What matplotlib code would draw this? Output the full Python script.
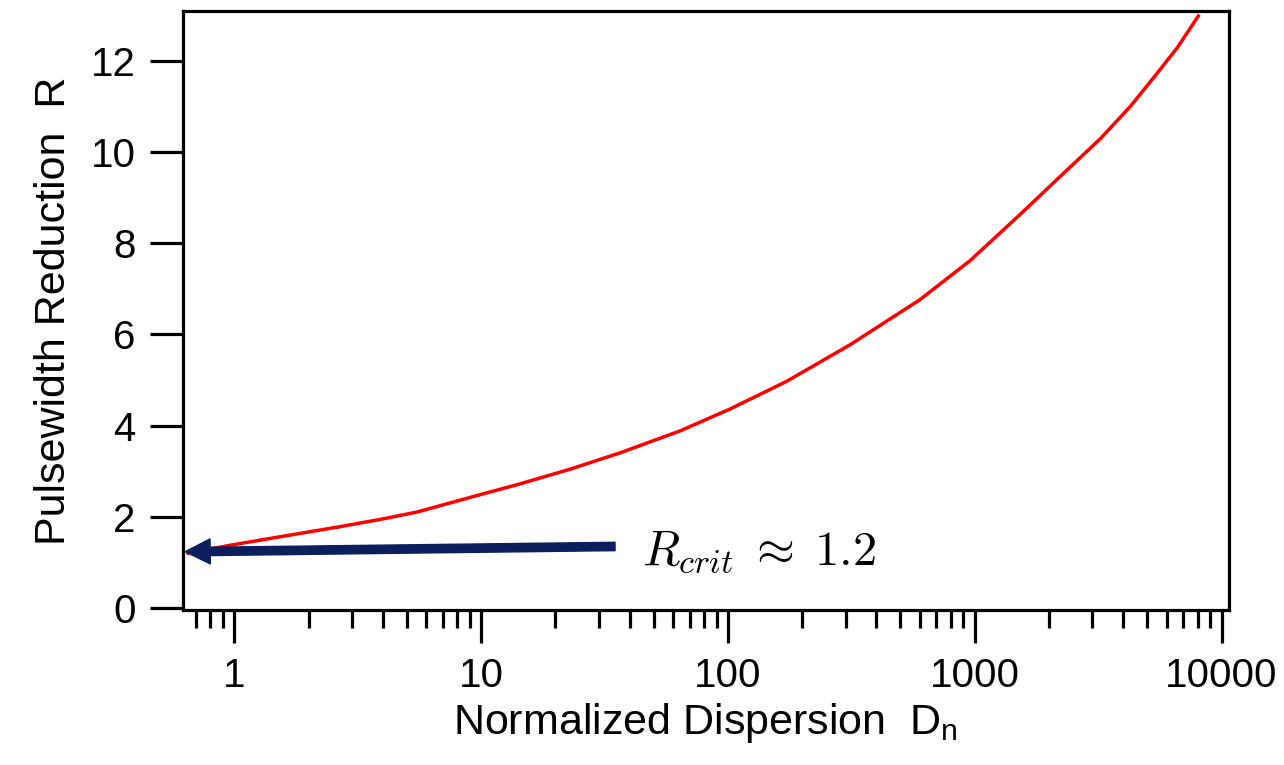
import numpy as np
import matplotlib
matplotlib.use("Agg")
import matplotlib.pyplot as plt
from matplotlib.ticker import LogLocator, FixedLocator, NullFormatter

# values
dispersion = [0.65, 0.96, 1.54, 2.69, 4.0, 5.5, 9.0, 14.4, 22.9, 36.6, 63.9, 101.8,
              173, 312, 599, 958, 1518, 2273, 3233, 4263, 5277, 6630, 8053]
reduction = [1.20, 1.37, 1.56, 1.78, 1.95, 2.10, 2.42, 2.72, 3.04, 3.40, 3.88, 4.36,
             4.97, 5.77, 6.76, 7.62, 8.62, 9.52, 10.3, 11.0, 11.62, 12.3, 12.99]
x_ticks = [1, 10, 100, 1000, 10000]
x_ticklabels = ["1", "10", "100", "1000", "10000"]
y_ticks = [0, 2, 4, 6, 8, 10, 12]
r_crit = 1.2

plt.rcParams['font.family'] = ['Liberation Sans', 'DejaVu Sans']
plt.rcParams['mathtext.fontset'] = 'custom'
plt.rcParams['mathtext.rm'] = 'Liberation Sans'

fig = plt.figure(figsize=(12.84, 7.65), dpi=100)
ax = fig.add_axes([0.1425, 0.2026, 0.957 - 0.1425, 0.9856 - 0.2026])

ax.plot(dispersion, reduction, color="red", lw=2.5, solid_joinstyle="round")

ax.set_xscale("log")
ax.set_xlim(0.62, 10700)
ax.set_ylim(-0.05, 13.1)
ax.xaxis.set_major_locator(FixedLocator(x_ticks))
ax.set_xticklabels(x_ticklabels)
ax.xaxis.set_minor_locator(LogLocator(base=10, subs=np.arange(2, 10)))
ax.xaxis.set_minor_formatter(NullFormatter())
ax.set_yticks(y_ticks)

for s in ax.spines.values():
    s.set_linewidth(2.3)
ax.tick_params(axis="both", which="major", direction="out", length=24, width=2.3,
               labelsize=29, pad=10)
ax.tick_params(axis="x", which="minor", direction="out", length=13, width=2.3)

ax.set_xlabel(r"Normalized Dispersion  D$_\mathregular{n}$", fontsize=31, labelpad=4)
ax.set_ylabel("Pulsewidth Reduction  R", fontsize=31, labelpad=12)

# arrow pointing at the critical value
ax.annotate("", xy=(0.633, 1.23), xytext=(34.9, 1.345),
            arrowprops=dict(arrowstyle="simple,head_length=0.6,head_width=0.6,tail_width=0.2",
                            mutation_scale=30, color="#0b1f5c", shrinkA=0, shrinkB=0))
ax.text(45, 1.23, r"$R_{crit}\;\approx\;%.1f$" % r_crit, fontsize=35,
        math_fontfamily="cm", va="center", ha="left")

fig.savefig("out.png", dpi=100)
